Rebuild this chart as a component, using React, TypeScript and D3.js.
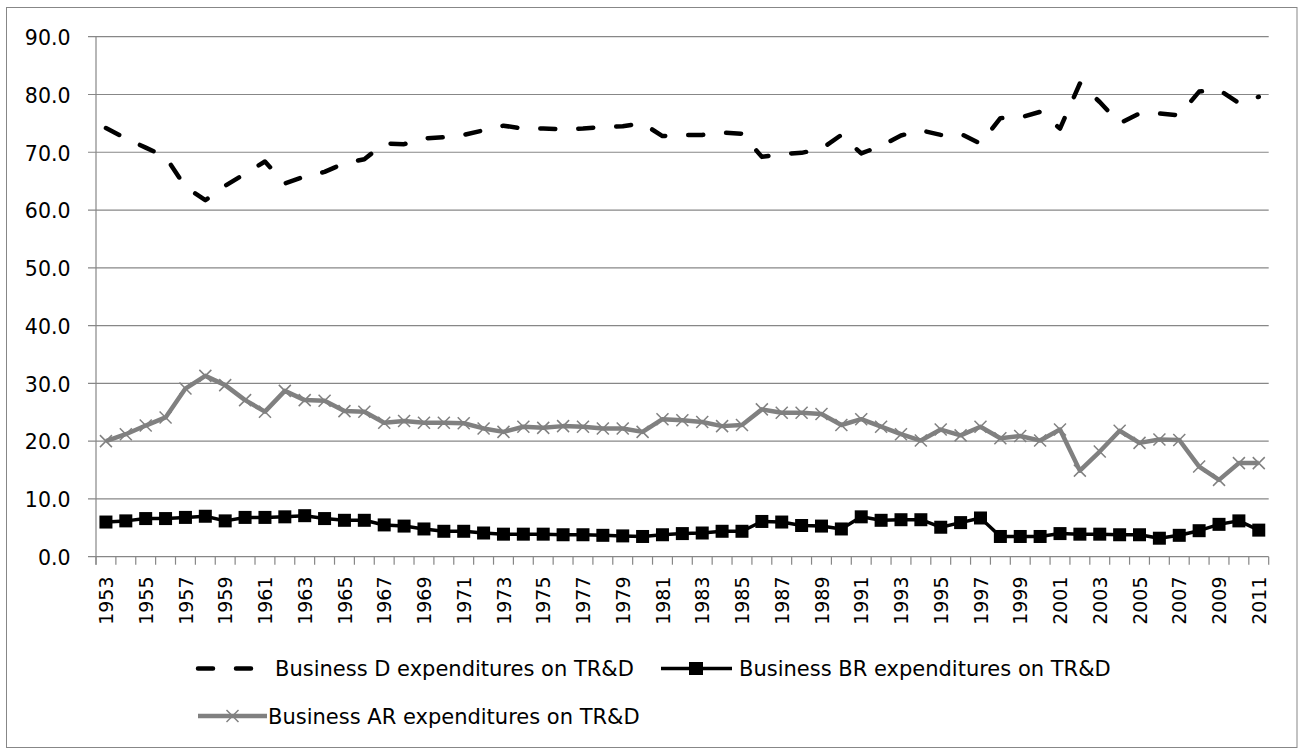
import React from "react";
import * as d3 from "d3";

const years: number[] = [
  1953, 1954, 1955, 1956, 1957, 1958, 1959, 1960, 1961, 1962, 1963, 1964, 1965, 1966, 1967, 1968, 1969, 1970,
  1971, 1972, 1973, 1974, 1975, 1976, 1977, 1978, 1979, 1980, 1981, 1982, 1983, 1984, 1985, 1986, 1987, 1988,
  1989, 1990, 1991, 1992, 1993, 1994, 1995, 1996, 1997, 1998, 1999, 2000, 2001, 2002, 2003, 2004, 2005, 2006,
  2007, 2008, 2009, 2010, 2011,
];

const seriesD: number[] = [
  74.2, 72.4, 70.8, 69.2, 64.0, 61.7, 64.2, 66.3, 68.4, 64.6, 65.8, 66.6, 68.1, 68.8, 71.5, 71.4, 72.4, 72.6,
  73.0, 73.8, 74.6, 74.1, 74.1, 74.0, 74.1, 74.4, 74.5, 75.0, 72.8, 73.0, 73.0, 73.4, 73.2, 69.2, 69.7, 69.9,
  70.6, 73.0, 69.8, 71.1, 72.9, 73.8, 73.0, 73.2, 71.5, 75.9, 76.0, 77.0, 74.1, 81.9, 78.7, 75.0, 76.7, 76.7,
  76.4, 80.5, 80.8, 78.5, 79.6,
];

const seriesBR: number[] = [
  6.0, 6.2, 6.6, 6.6, 6.8, 7.0, 6.2, 6.8, 6.8, 6.9, 7.1, 6.6, 6.3, 6.3, 5.5, 5.3, 4.8, 4.4,
  4.4, 4.1, 3.9, 3.9, 3.9, 3.8, 3.8, 3.7, 3.6, 3.5, 3.8, 4.0, 4.1, 4.4, 4.4, 6.1, 6.0, 5.4,
  5.3, 4.8, 6.9, 6.3, 6.4, 6.4, 5.1, 5.9, 6.7, 3.5, 3.5, 3.5, 4.0, 3.9, 3.9, 3.8, 3.8, 3.2,
  3.7, 4.5, 5.6, 6.2, 4.6,
];

const seriesAR: number[] = [
  20.0, 21.2, 22.7, 24.1, 29.1, 31.3, 29.7, 27.1, 25.1, 28.7, 27.1, 27.0, 25.2, 25.1, 23.2, 23.5, 23.2, 23.2,
  23.1, 22.2, 21.6, 22.5, 22.3, 22.6, 22.5, 22.2, 22.2, 21.6, 23.8, 23.6, 23.3, 22.6, 22.8, 25.5, 24.9, 24.9,
  24.7, 22.8, 23.8, 22.5, 21.2, 20.1, 22.0, 21.0, 22.5, 20.5, 20.9, 20.1, 22.0, 14.9, 18.2, 21.8, 19.7, 20.3,
  20.2, 15.6, 13.3, 16.2, 16.2,
];

const yTicks: number[] = [0, 10, 20, 30, 40, 50, 60, 70, 80, 90];

const labelD = "Business D expenditures on TR&D";
const labelBR = "Business BR expenditures on TR&D";
const labelAR = "Business AR expenditures on TR&D";

const W = 1300;
const H = 749;
const plotLeft = 96;
const plotRight = 1268.7;
const plotTop = 36.7;
const plotBottom = 556.7;

const GRID = "#878787";
const GRAY = "#808080";

export default function App() {
  const x = d3.scaleBand<number>().domain(years).range([plotLeft, plotRight]).padding(0);
  const y = d3.scaleLinear().domain([0, 90]).range([plotBottom, plotTop]);
  const cx = (yr: number) => (x(yr) as number) + x.bandwidth() / 2;

  const line = d3
    .line<number>()
    .x((_, i) => cx(years[i]))
    .y((v) => y(v));

  const boundaries = d3.range(years.length + 1).map((i) => plotLeft + i * x.bandwidth());
  const axisFont = "'DejaVu Sans', sans-serif";

  const xMark = (px: number, py: number, s: number, key: string | number) => (
    <g key={key}>
      <line x1={px - s} y1={py - s} x2={px + s} y2={py + s} stroke={GRAY} strokeWidth={1.5} />
      <line x1={px - s} y1={py + s} x2={px + s} y2={py - s} stroke={GRAY} strokeWidth={1.5} />
    </g>
  );

  return (
    <svg
      width={W}
      height={H}
      style={{ position: "absolute", left: 0, top: 0, background: "#fff" }}
      xmlns="http://www.w3.org/2000/svg"
    >
      <rect x={0} y={0} width={W} height={H} fill="#fff" />
      <rect x={6.5} y={7.5} width={1290.5} height={740} fill="none" stroke={GRID} strokeWidth={1} />

      {/* gridlines */}
      {yTicks.map((t) => (
        <line key={`g${t}`} x1={plotLeft - 8} x2={plotRight} y1={y(t)} y2={y(t)} stroke={GRID} strokeWidth={1.2} />
      ))}
      {/* y axis */}
      <line x1={plotLeft} x2={plotLeft} y1={plotTop} y2={plotBottom + 8} stroke={GRID} strokeWidth={1.2} />
      {/* x ticks */}
      {boundaries.map((bx, i) => (
        <line key={`t${i}`} x1={bx} x2={bx} y1={plotBottom} y2={plotBottom + 8} stroke={GRID} strokeWidth={1.2} />
      ))}

      {/* y labels */}
      {yTicks.map((t) => (
        <text
          key={`yl${t}`}
          x={70.5}
          y={y(t)}
          dy={8.3}
          textAnchor="end"
          fontFamily={axisFont}
          fontSize={20.5}
          fill="#000"
        >
          {t.toFixed(1)}
        </text>
      ))}

      {/* x labels */}
      {years.map((yr, i) =>
        i % 2 === 0 ? (
          <text
            key={`xl${yr}`}
            transform={`translate(${cx(yr)},${576.5}) rotate(-90)`}
            dy={7.2}
            textAnchor="end"
            fontFamily={axisFont}
            fontSize={19}
            fill="#000"
          >
            {yr}
          </text>
        ) : null
      )}

      {/* series D dashed */}
      <path
        d={line(seriesD) || ""}
        fill="none"
        stroke="#000"
        strokeWidth={4.5}
        strokeDasharray="15 23"
        strokeLinecap="round"
        strokeLinejoin="round"
      />

      {/* series BR */}
      <path d={line(seriesBR) || ""} fill="none" stroke="#000" strokeWidth={3.5} strokeLinejoin="round" />
      {seriesBR.map((v, i) => (
        <rect key={`br${i}`} x={cx(years[i]) - 6.5} y={y(v) - 6.5} width={13} height={13} fill="#000" />
      ))}

      {/* series AR */}
      <path d={line(seriesAR) || ""} fill="none" stroke={GRAY} strokeWidth={4.5} strokeLinejoin="round" />
      {seriesAR.map((v, i) => xMark(cx(years[i]), y(v), 6, `ar${i}`))}

      {/* legend */}
      <line
        x1={198}
        x2={255}
        y1={668.5}
        y2={668.5}
        stroke="#000"
        strokeWidth={4.5}
        strokeDasharray="15 23"
        strokeLinecap="round"
      />
      <text x={275} y={676} fontFamily={axisFont} fontSize={21} fill="#000">
        {labelD}
      </text>

      <line x1={661} x2={732} y1={668.5} y2={668.5} stroke="#000" strokeWidth={3.5} />
      <rect x={689} y={662} width={14} height={13} fill="#000" />
      <text x={739} y={676} fontFamily={axisFont} fontSize={21} fill="#000">
        {labelBR}
      </text>

      <line x1={198} x2={267} y1={716} y2={716} stroke={GRAY} strokeWidth={4.5} />
      {xMark(232.5, 716, 6, "legx")}
      <text x={268} y={723.5} fontFamily={axisFont} fontSize={21} fill="#000">
        {labelAR}
      </text>
    </svg>
  );
}
